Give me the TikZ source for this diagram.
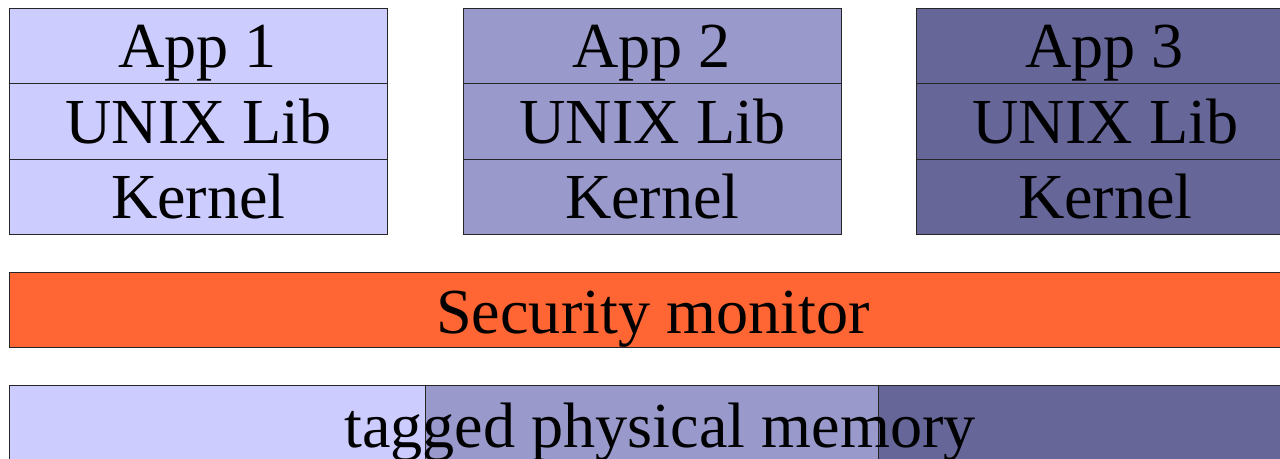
\documentclass[tikz,border=0pt]{standalone}
\usepackage{fontspec}
\setmainfont{Liberation Serif}
\definecolor{lite}{HTML}{CCCCFF}
\definecolor{midc}{HTML}{9999CC}
\definecolor{dark}{HTML}{666699}
\definecolor{orng}{HTML}{FF6633}
\begin{document}
\begin{tikzpicture}[x=1pt,y=-1pt,
  cell/.style={draw=black!85, line width=0.8pt, inner sep=0, anchor=north west, minimum width=#1, minimum height=75.33pt},
  lbl/.style={anchor=base, inner sep=0, font=\fontsize{64.2}{70}\selectfont}]
\useasboundingbox (0,0) rectangle (1280,458);
\clip (0,0) rectangle (1280,458);
\foreach \i/\x/\c in {1/9/lite, 2/463/midc, 3/916/dark}{
  \node[cell=378pt, fill=\c] (app\i) at (\x,8) {};
  \node[cell=378pt, fill=\c] (lib\i) at (\x,83.33) {};
  \node[cell=378pt, fill=\c] (ker\i) at (\x,158.67) {};
  \node[lbl] (tapp\i) at ([xshift=-1pt]app\i.center |- 0,67) {App \i};
  \node[lbl] (tlib\i) at (lib\i.center |- 0,143) {UNIX Lib};
  \node[lbl] (tker\i) at (ker\i.center |- 0,218) {Kernel};
}
\node[cell=1287pt, fill=orng] (sec) at (9,272) {};
\node[lbl] (tsec) at (sec.center |- 0,333) {Security monitor};
\node[cell=416pt, fill=lite] (m1) at (9,385) {};
\node[cell=453pt, fill=midc] (m2) at (425,385) {};
\node[cell=433pt, fill=dark] (m3) at (878,385) {};
\node[lbl] (tmem) at (660,447) {tagged physical memory};
\end{tikzpicture}
\end{document}
